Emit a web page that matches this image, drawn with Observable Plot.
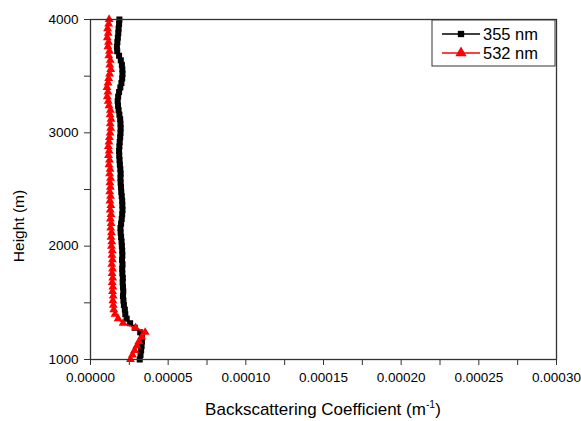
<!DOCTYPE html>
<html><head><meta charset="utf-8">
<script src="https://cdn.jsdelivr.net/npm/d3@7"></script>
<script src="https://cdn.jsdelivr.net/npm/@observablehq/plot@0.6"></script>
<style>
body{margin:0;background:#fff}
#chart svg{font-family:"Liberation Sans",Arial,sans-serif}
</style>
</head><body><div id="chart"></div>
<script>
// sample heights (m), 40 m resolution
const heights = d3.range(1000, 4001, 40);
// backscattering coefficient, in units of 1e-5 m^-1
const unit = 1e-5;
const beta355 = [
  3.17,3.22,3.26,3.29,3.31,3.32,3.20,2.85,2.55,2.33,2.24,2.21,2.15,2.12,2.09,2.11,
  2.09,2.07,2.08,2.05,2.04,2.06,2.03,2.05,2.04,2.02,2.00,1.97,1.94,1.93,1.97,2.01,
  2.04,2.06,2.05,2.04,2.01,1.98,1.96,1.94,1.93,1.94,1.92,1.89,1.87,1.85,1.84,1.86,
  1.88,1.91,1.93,1.94,1.93,1.91,1.86,1.81,1.77,1.75,1.78,1.84,1.92,1.99,2.04,2.06,
  2.05,2.02,1.95,1.84,1.72,1.70,1.73,1.76,1.79,1.81,1.84,1.86
];
const beta532 = [
  2.57,2.70,2.84,2.98,3.12,3.30,3.52,2.90,2.10,1.78,1.58,1.50,1.47,1.44,1.46,1.42,
  1.44,1.40,1.43,1.39,1.42,1.37,1.41,1.38,1.40,1.35,1.37,1.32,1.35,1.30,1.33,1.28,
  1.32,1.27,1.31,1.25,1.29,1.24,1.28,1.25,1.29,1.23,1.26,1.19,1.22,1.16,1.20,1.15,
  1.19,1.22,1.26,1.30,1.27,1.32,1.26,1.28,1.19,1.14,1.08,1.12,1.06,1.13,1.17,1.23,
  1.30,1.24,1.27,1.18,1.22,1.12,1.16,1.08,1.14,1.10,1.17,1.20
];
const seriesNames = ["355 nm", "532 nm"];
const seriesColors = ["#000000", "#ff0000"];
const xMajorTicks = [0, 0.00005, 0.0001, 0.00015, 0.0002, 0.00025, 0.0003];
const xMinorTicks = [0.000025, 0.000075, 0.000125, 0.000175, 0.000225, 0.000275];
const yMajorTicks = [1000, 2000, 3000, 4000];
const yMinorTicks = [1500, 2500, 3500];
const xTitle = "Backscattering Coefficient (m";
const xTitleSup = "-1";
const yTitle = "Height (m)";

const d355 = heights.map((h, i) => ({h, v: beta355[i] * unit}));
const d532 = heights.map((h, i) => ({h, v: beta532[i] * unit}));

const W = 581, H = 421;
const plot = Plot.plot({
  width: W, height: H,
  marginLeft: 90, marginRight: 25, marginTop: 19, marginBottom: 62,
  style: {fontFamily: "Liberation Sans, Arial, sans-serif", fontSize: "13.5px", color: "#000", background: "#fff", overflow: "visible"},
  x: {domain: [0, 0.0003], label: null},
  y: {domain: [1000, 4000], label: null},
  marks: [
    Plot.axisX({ticks: xMajorTicks, tickFormat: d => d.toFixed(5), tickSize: 6, tickPadding: 7, label: null, fontSize: 13.5, stroke: "#333"}),
    Plot.axisX({ticks: xMinorTicks, tickFormat: () => "", tickSize: 6, label: null, stroke: "#333"}),
    Plot.axisY({ticks: yMajorTicks, tickFormat: d => String(d), tickSize: 6, tickPadding: 6, label: null, fontSize: 13.5, stroke: "#333"}),
    Plot.axisY({ticks: yMinorTicks, tickFormat: () => "", tickSize: 6, label: null, stroke: "#333"}),
    Plot.line(d355, {x: "v", y: "h", stroke: seriesColors[0], strokeWidth: 1.5}),
    Plot.dot(d355, {x: "v", y: "h", symbol: "square", r: 3.4, fill: seriesColors[0], stroke: "none"}),
    Plot.line(d532, {x: "v", y: "h", stroke: seriesColors[1], strokeWidth: 1.5}),
    Plot.dot(d532, {x: "v", y: "h", symbol: "triangle", r: 3.3, fill: seriesColors[1], stroke: "none"}),
    Plot.frame({stroke: "#333", strokeWidth: 1.3})
  ]
});
document.getElementById("chart").appendChild(plot);

const svg = d3.select(plot);
const font = "Liberation Sans, Arial, sans-serif";
// axis titles
const xt = svg.append("text").attr("x", 323).attr("y", 415).attr("text-anchor", "middle")
  .attr("font-family", font).attr("font-size", 17).attr("fill", "#000");
xt.append("tspan").text(xTitle);
xt.append("tspan").attr("font-size", 10.5).attr("dy", -7).text(xTitleSup);
xt.append("tspan").attr("dy", 7).text(")");
svg.append("text").attr("transform", "translate(24,226) rotate(-90)").attr("text-anchor", "middle")
  .attr("font-family", font).attr("font-size", 15.5).attr("fill", "#000").text(yTitle);

// legend
const lg = svg.append("g");
lg.append("rect").attr("x", 432).attr("y", 20).attr("width", 123).attr("height", 46)
  .attr("fill", "#fff").attr("stroke", "#333").attr("stroke-width", 1);
const symbols = [d3.symbolSquare, d3.symbolTriangle];
const symSize = [40, 55];
seriesNames.forEach((name, i) => {
  const cy = 34 + i * 19;
  lg.append("line").attr("x1", 442).attr("x2", 480).attr("y1", cy).attr("y2", cy)
    .attr("stroke", seriesColors[i]).attr("stroke-width", 1.5);
  lg.append("path").attr("d", d3.symbol(symbols[i], symSize[i])())
    .attr("transform", `translate(461,${cy})`).attr("fill", seriesColors[i]);
  lg.append("text").attr("x", 483).attr("y", cy + 6).attr("text-anchor", "start")
    .attr("font-family", font).attr("font-size", 16.5).attr("fill", "#000").text(name);
});
</script>
</body></html>
